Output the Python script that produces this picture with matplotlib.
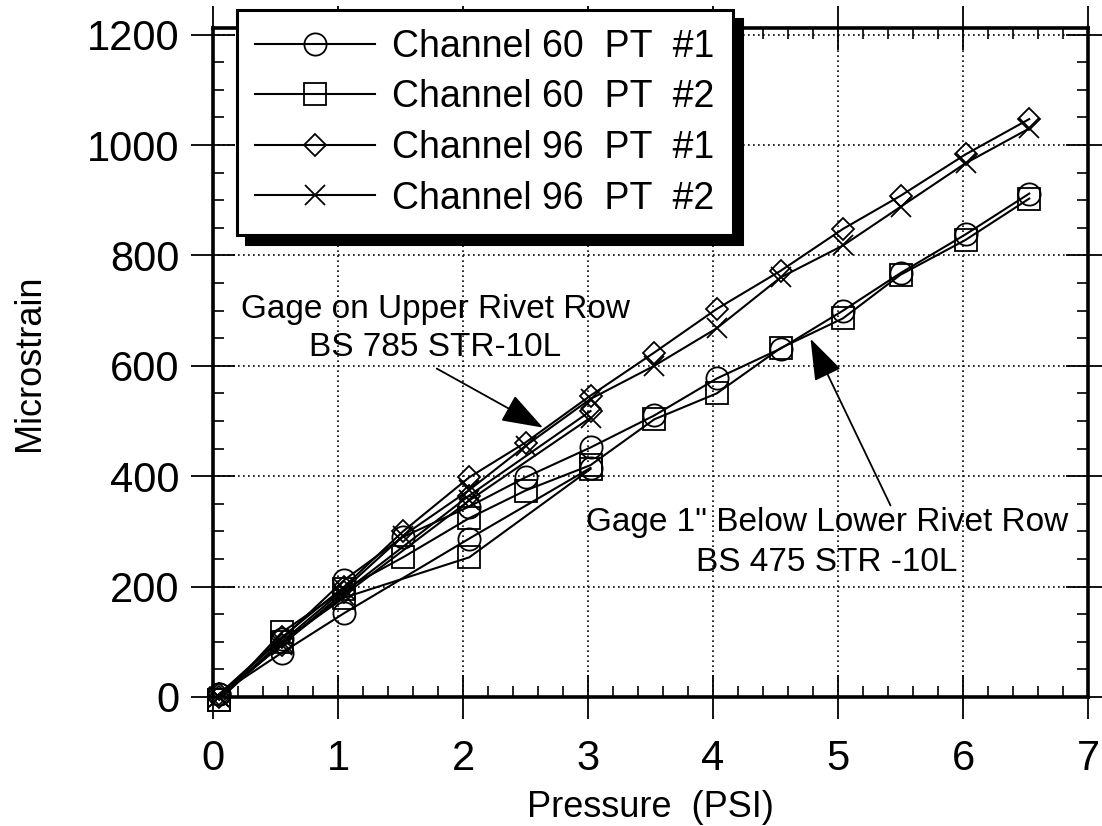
import numpy as np
import matplotlib.pyplot as plt
from matplotlib.ticker import MultipleLocator

plt.rcParams['font.family'] = ['Liberation Sans', 'DejaVu Sans']

# pressure steps (psi) for the two load passes
p_fine = [0.05, 0.55, 1.05, 1.52, 2.05, 2.5, 3.02, 3.53, 4.03, 4.54, 5.04, 5.5, 6.02, 6.53]
p_coarse = [0.05, 0.55, 1.05, 2.05, 3.02]

# microstrain readings, fine pass
ch60_pt1 = [5, 105, 212, 290, 345, 398, 452, 510, 577, 631, 700, 768, 838, 912]
ch60_pt2 = [-5, 117, 195, 253, 324, 374, 420, 503, 550, 632, 686, 765, 828, 903]
ch96_pt1 = [5, 108, 200, 300, 398, 461, 546, 624, 703, 772, 848, 908, 983, 1047]
ch96_pt2 = [0, 100, 195, 292, 375, 455, 540, 600, 668, 760, 818, 888, 967, 1030]

# microstrain readings, first (coarse) pass
ch60_pt1_c = [5, 80, 152, 287, 415]
ch60_pt2_c = [-5, 100, 180, 253, 413]
ch96_pt1_c = [0, 95, 190, 365, 518]
ch96_pt2_c = [0, 95, 185, 356, 506]

labels = ['Channel 60  PT  #1', 'Channel 60  PT  #2', 'Channel 96  PT  #1', 'Channel 96  PT  #2']
markers = ['o', 's', 'D', 'x']
sizes = [16, 16, 11, 15]

fig = plt.figure(figsize=(11.02, 8.26), dpi=100)
ax = fig.add_axes([0.1933, 0.1562, 0.7940, 0.8099])

fine = [ch60_pt1, ch60_pt2, ch96_pt1, ch96_pt2]
coarse = [ch60_pt1_c, ch60_pt2_c, ch96_pt1_c, ch96_pt2_c]
for yf, yc, lab, m, ms in zip(fine, coarse, labels, markers, sizes):
    style = dict(color='k', lw=1.5, marker=m, ms=ms, mfc='none', mec='k', mew=1.3, clip_on=False)
    ax.plot(p_fine, yf, label=lab, **style)
    ax.plot(p_coarse, yc, **style)

ax.set_xlim(0, 7)
ax.set_ylim(0, 1212)
ax.xaxis.set_major_locator(MultipleLocator(1))
ax.xaxis.set_minor_locator(MultipleLocator(0.2))
ax.yaxis.set_major_locator(MultipleLocator(200))
ax.yaxis.set_minor_locator(MultipleLocator(50))
ax.tick_params(which='major', direction='inout', length=32, width=1.3,
               top=True, right=True, labelsize=30)
ax.tick_params(which='minor', direction='in', length=8, width=1.2, top=True, right=True)
ax.tick_params(axis='y', which='major', pad=8)
ax.tick_params(axis='x', which='major', pad=14)
ax.grid(True, which='major', color='k', ls=(0, (1, 2)), lw=1.2)
for s in ax.spines.values():
    s.set_linewidth(2.6)

ax.set_xlabel('Pressure  (PSI)', fontsize=26, labelpad=8)
ax.set_ylabel('Microstrain', fontsize=26, labelpad=29)

leg = ax.legend(loc='upper left', bbox_to_anchor=(0.027, 1.027), borderaxespad=0,
                fontsize=27, handlelength=3.2, handletextpad=0.45, labelspacing=0.39,
                borderpad=0.5, fancybox=False, edgecolor='k', framealpha=1,
                shadow={'ox': 6.5, 'oy': -6.5, 'color': 'k', 'alpha': 1})
leg.get_frame().set_linewidth(2.2)
leg.set_zorder(5)

ax.text(1.78, 668, 'Gage on Upper Rivet Row\nBS 785 STR-10L', fontsize=24,
        ha='center', va='center', linespacing=1.3)
ax.annotate('', xy=(2.64, 488), xytext=(1.79, 595),
            arrowprops=dict(arrowstyle='-|>,head_length=1.0,head_width=0.35',
                            color='k', lw=1.3, mutation_scale=26, shrinkA=0, shrinkB=0))
ax.text(4.91, 280, 'Gage 1" Below Lower Rivet Row\nBS 475 STR -10L', fontsize=24,
        ha='center', va='center', linespacing=1.38)
ax.annotate('', xy=(4.78, 649), xytext=(5.42, 347),
            arrowprops=dict(arrowstyle='-|>,head_length=1.0,head_width=0.35',
                            color='k', lw=1.3, mutation_scale=26, shrinkA=0, shrinkB=0))

fig.savefig('out.png', dpi=100)
